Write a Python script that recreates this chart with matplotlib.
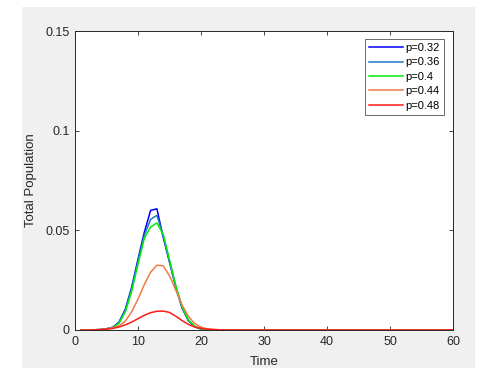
import matplotlib
matplotlib.use("Agg")
import matplotlib.pyplot as plt
from matplotlib.patches import Rectangle

plt.rcParams['font.family'] = ['Liberation Sans', 'DejaVu Sans']

time = list(range(1, 61))
labels = ["p=0.32", "p=0.36", "p=0.4", "p=0.44", "p=0.48"]
colors = ["#0000ff", "#1f77c8", "#00ee00", "#f07a45", "#ff1a1a"]

tail = [0.0] * 35
pop_032 = [0.0000, 0.0000, 0.0001, 0.0002, 0.0006, 0.0014, 0.0040, 0.0105, 0.0215, 0.0355,
           0.0490, 0.0600, 0.0608, 0.0465, 0.0340, 0.0215, 0.0110, 0.0046, 0.0016, 0.0005,
           0.0001, 0.0000, 0.0000, 0.0000, 0.0000] + tail
pop_036 = [0.0000, 0.0000, 0.0001, 0.0002, 0.0006, 0.0013, 0.0038, 0.0100, 0.0207, 0.0345,
           0.0475, 0.0555, 0.0575, 0.0475, 0.0345, 0.0218, 0.0113, 0.0048, 0.0017, 0.0005,
           0.0001, 0.0000, 0.0000, 0.0000, 0.0000] + tail
pop_040 = [0.0000, 0.0000, 0.0001, 0.0002, 0.0005, 0.0012, 0.0034, 0.0092, 0.0195, 0.0330,
           0.0460, 0.0517, 0.0537, 0.0480, 0.0352, 0.0222, 0.0116, 0.0050, 0.0018, 0.0006,
           0.0002, 0.0000, 0.0000, 0.0000, 0.0000] + tail
pop_044 = [0.0000, 0.0000, 0.0001, 0.0002, 0.0005, 0.0011, 0.0021, 0.0045, 0.0092, 0.0155,
           0.0228, 0.0290, 0.0325, 0.0322, 0.0272, 0.0200, 0.0125, 0.0068, 0.0032, 0.0014,
           0.0006, 0.0003, 0.0001, 0.0000, 0.0000] + tail
pop_048 = [0.0000, 0.0000, 0.0001, 0.0002, 0.0004, 0.0008, 0.0015, 0.0026, 0.0040, 0.0057,
           0.0074, 0.0087, 0.0094, 0.0095, 0.0088, 0.0069, 0.0047, 0.0028, 0.0015, 0.0008,
           0.0004, 0.0002, 0.0001, 0.0000, 0.0000] + tail
series = [pop_032, pop_036, pop_040, pop_044, pop_048]

xticks = [0, 10, 20, 30, 40, 50, 60]
yticks = [0, 0.05, 0.1, 0.15]
yticklabels = ["0", "0.05", "0.1", "0.15"]

W, H = 498, 377
fig = plt.figure(figsize=(W / 100, H / 100), dpi=100)
fig.patch.set_facecolor("white")
bg = Rectangle((22 / W, 1 - 368 / H), (475 - 22) / W, (368 - 7) / H,
               transform=fig.transFigure, facecolor="#f0f0f0",
               edgecolor="none", zorder=-10)
fig.add_artist(bg)

ax = fig.add_axes([75 / W, 1 - 330 / H, (453 - 75) / W, (330 - 31) / H])
ax.set_zorder(1)
ax.set_facecolor("white")
for y, lab, c in zip(series, labels, colors):
    ax.plot(time, y, color=c, lw=1.1, label=lab)

ax.set_xlim(0, 60)
ax.set_ylim(0, 0.15)
ax.set_xticks(xticks)
ax.set_yticks(yticks)
ax.set_yticklabels(yticklabels)
ax.tick_params(direction="in", length=3, width=0.6, colors="#262626",
               labelsize=9, top=True, right=True, pad=4)
for s in ax.spines.values():
    s.set_color("#262626")
    s.set_linewidth(0.7)
ax.set_xlabel("Time", fontsize=9.5, color="#262626", labelpad=6)
ax.set_ylabel("Total Population", fontsize=9.5, color="#262626", labelpad=6)

leg = ax.legend(loc="upper right", bbox_to_anchor=(0.976, 0.973), fontsize=8,
                frameon=True, fancybox=False, handlelength=3.1, handletextpad=0.2,
                borderpad=0.35, labelspacing=0.4, borderaxespad=0)
leg.get_frame().set_edgecolor("#262626")
leg.get_frame().set_linewidth(0.6)

fig.savefig("out.png", dpi=100, facecolor=fig.get_facecolor())
